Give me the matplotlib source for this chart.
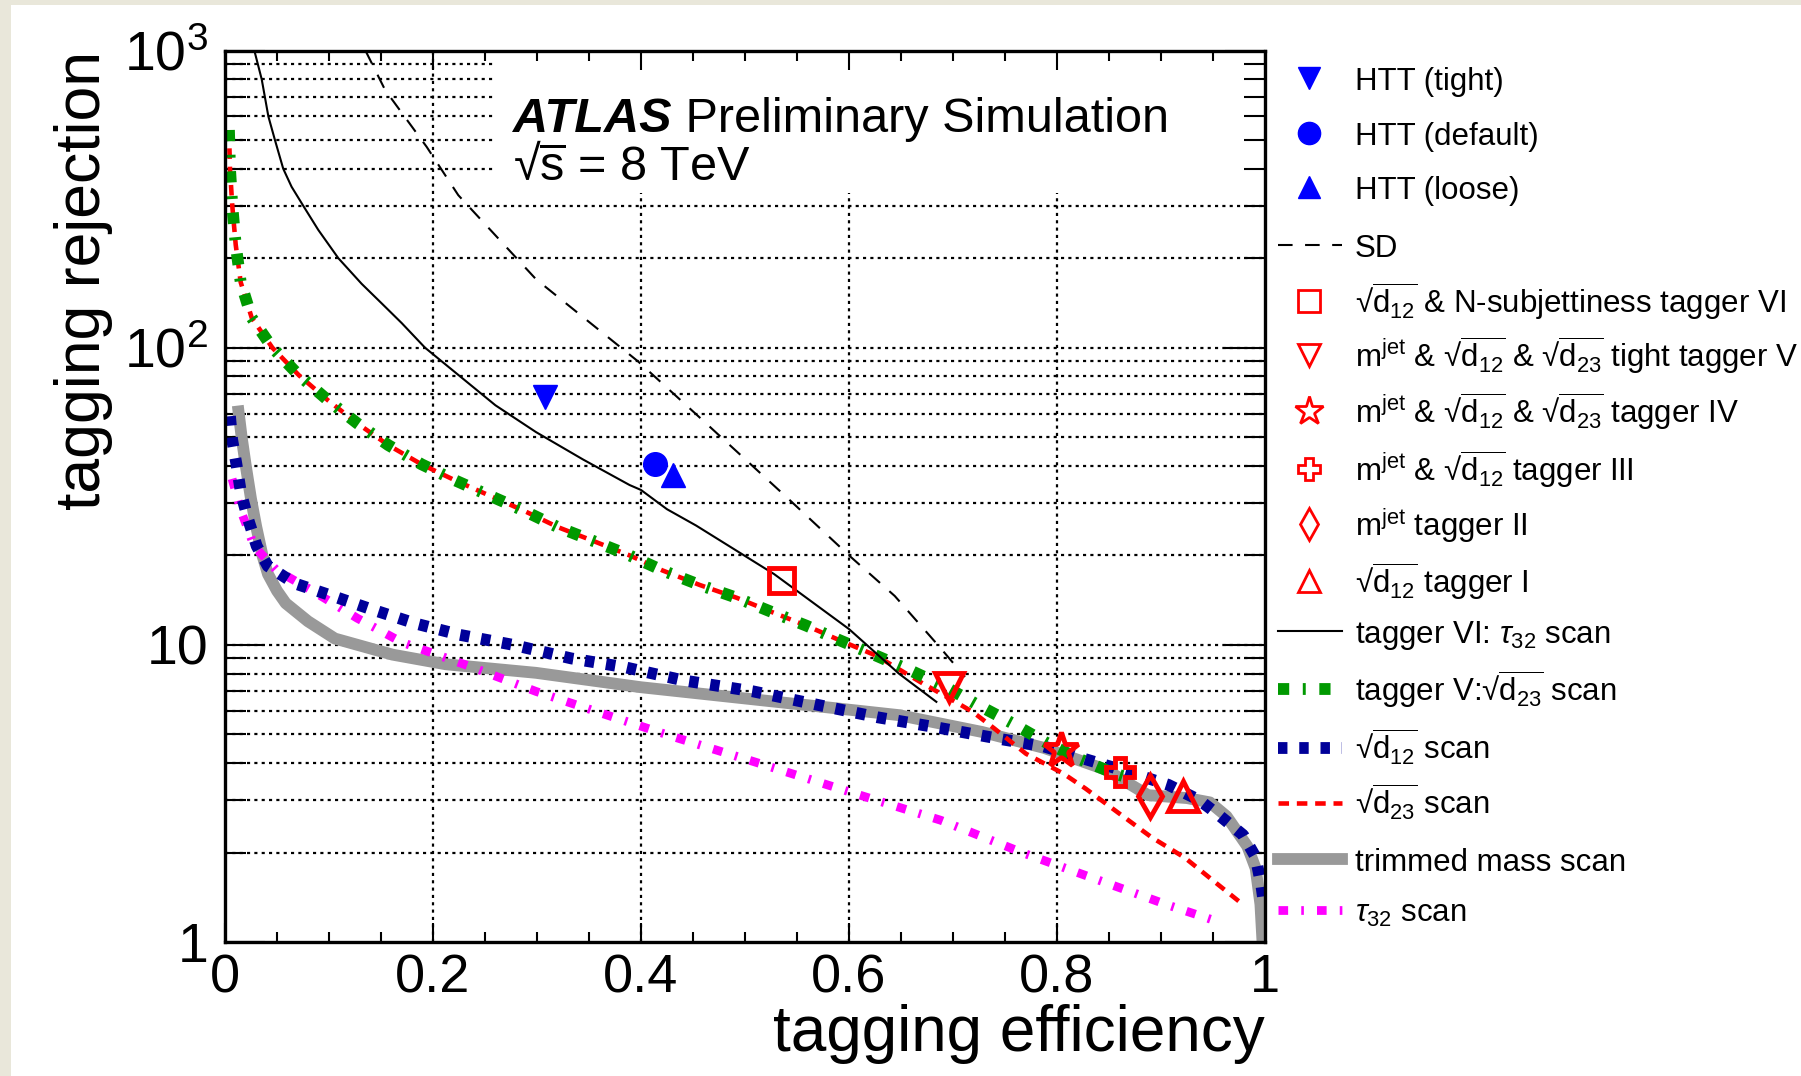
import matplotlib
matplotlib.use("Agg")
import matplotlib.pyplot as plt
from matplotlib.lines import Line2D
from matplotlib.patches import Rectangle
from matplotlib import ticker

# ---- data ----
# SD (dashed black)
sd_eff = [0.135, 0.154, 0.1939, 0.2243, 0.299, 0.397, 0.453, 0.543, 0.600, 0.644, 0.6875, 0.7115]
sd_rej = [1000, 736, 474, 326, 170, 90, 59.7, 30.7, 20.0, 14.6, 9.8, 7.8]

# tagger VI: tau32 scan (solid black)
vi_eff = [0.0282, 0.0353, 0.0417, 0.048, 0.056, 0.064, 0.0753, 0.0897, 0.109, 0.1314,
          0.1506, 0.1699, 0.1923, 0.23, 0.26, 0.299, 0.3445, 0.389, 0.40, 0.425,
          0.453, 0.528, 0.600, 0.648, 0.684]
vi_rej = [1000, 800, 600, 500, 400, 348, 300, 249, 200, 164,
          141, 121, 100, 78, 64, 52, 42, 34.5, 33.2, 28.6,
          25.2, 17.3, 11.3, 8.0, 6.43]

# tagger V: sqrt(d23) scan (green)
v_eff = [0.0038, 0.0048, 0.007, 0.0103, 0.0151, 0.0257, 0.0455, 0.071, 0.099, 0.127,
         0.157, 0.189, 0.221, 0.256, 0.288, 0.32, 0.355, 0.389, 0.4206, 0.4565,
         0.492, 0.5257, 0.559, 0.5913, 0.626, 0.660, 0.6935, 0.7248, 0.756, 0.7885,
         0.820, 0.8536, 0.863]
v_rej = [540, 400, 300, 222, 166, 126, 100, 80.8, 66.5, 55.7,
         47, 40.5, 35.8, 31.6, 28.2, 24.9, 22.3, 20, 17.8, 15.9,
         14.4, 12.9, 11.6, 10.35, 9.2, 8.17, 7.2, 6.25, 5.47, 4.71,
         4.15, 3.71, 3.62]

# sqrt(d23) scan (red dashed)
d23_eff = [0.0038, 0.0048, 0.007, 0.0103, 0.0151, 0.0257, 0.0455, 0.071, 0.099, 0.127,
           0.157, 0.189, 0.221, 0.256, 0.288, 0.32, 0.355, 0.389, 0.4206, 0.4565,
           0.492, 0.5257, 0.559, 0.5913, 0.626, 0.671, 0.700, 0.7192, 0.7394, 0.7702,
           0.806, 0.8276, 0.859, 0.891, 0.923, 0.951, 0.975]
d23_rej = [540, 400, 300, 222, 166, 126, 100, 80.8, 66.5, 55.7,
           47, 40.5, 35.8, 31.6, 28.2, 24.9, 22.3, 20, 17.8, 15.9,
           14.4, 12.9, 11.6, 10.35, 9.2, 7.41, 6.5, 5.94, 5.24, 4.30,
           3.69, 3.28, 2.72, 2.25, 1.92, 1.6, 1.37]

# sqrt(d12) scan (navy dotted)
d12_eff = [0.0048, 0.0068, 0.011, 0.0154, 0.0219, 0.0305, 0.0412, 0.0669, 0.1034, 0.140,
           0.183, 0.226, 0.277, 0.333, 0.385, 0.44, 0.508, 0.568, 0.628, 0.6875,
           0.747, 0.7875, 0.8276, 0.867, 0.907, 0.937, 0.957, 0.979, 0.991, 0.9966, 0.999]
d12_rej = [58.8, 49.2, 40.5, 32.4, 26.7, 21.5, 18.4, 16.1, 14.6, 13.2,
           11.8, 10.8, 10.0, 9.0, 8.4, 7.6, 6.97, 6.3, 5.7, 5.25,
           4.81, 4.55, 4.12, 3.75, 3.38, 3.0, 2.65, 2.29, 1.93, 1.54, 1.34]

# trimmed mass scan (grey)
trim_eff = [0.013, 0.016, 0.020, 0.025, 0.030, 0.036, 0.0413, 0.05, 0.0584, 0.0798,
            0.1056, 0.161, 0.2125, 0.299, 0.40, 0.50, 0.60, 0.648, 0.728, 0.7875,
            0.847, 0.8875, 0.925, 0.947, 0.963, 0.983, 0.991, 0.9956, 0.9976]
trim_rej = [61, 50, 40, 31, 25, 20, 17.3, 15.2, 13.8, 12.0,
            10.5, 9.27, 8.6, 8.05, 7.2, 6.6, 6.05, 5.8, 5.09, 4.5,
            3.8, 3.12, 3.05, 2.95, 2.65, 2.1, 1.77, 1.34, 1.0]

# tau32 scan (magenta)
tau_eff = [0.0068, 0.0154, 0.028, 0.0327, 0.0498, 0.0841, 0.127, 0.170, 0.234, 0.299,
           0.363, 0.4275, 0.508, 0.608, 0.688, 0.768, 0.8475, 0.907, 0.955]
tau_rej = [36.2, 28.2, 21.5, 20.6, 17.8, 15.2, 12.3, 10.2, 8.5, 6.97,
           5.87, 4.95, 4.05, 3.14, 2.57, 1.99, 1.58, 1.33, 1.17]

# HTT working points
htt_eff = [0.3077, 0.4135, 0.4306]
htt_rej = [68.3, 40.7, 37.2]
htt_labels = ["HTT (tight)", "HTT (default)", "HTT (loose)"]


def rt(sub):
    # ROOT-like #sqrt{d_{xy}}
    return "$\u221a\\overline{\\mathrm{d}_{%s}}$" % sub


MJ = r"m$^{\mathrm{jet}}$"

# taggers VI .. I
tag_eff = [0.5343, 0.696, 0.8036, 0.8609, 0.8897, 0.9215]
tag_rej = [16.5, 7.2, 4.41, 3.73, 3.09, 3.11]
tag_labels = [
    rt("12") + " & N-subjettiness tagger VI",
    MJ + " & " + rt("12") + " & " + rt("23") + " tight tagger V",
    MJ + " & " + rt("12") + " & " + rt("23") + " tagger IV",
    MJ + " & " + rt("12") + " tagger III",
    MJ + " tagger II",
    rt("12") + " tagger I",
]
scan_labels = [
    r"tagger VI: $\tau_{32}$ scan",
    "tagger V:" + rt("23") + " scan",
    rt("12") + " scan",
    rt("23") + " scan",
    "trimmed mass scan",
    r"$\tau_{32}$ scan",
]

x_ticks = [0, 0.2, 0.4, 0.6, 0.8, 1]
x_ticklabels = ["0", "0.2", "0.4", "0.6", "0.8", "1"]
y_ticks = [1, 10, 100, 1000]
y_ticklabels = ["1", "10", r"$10^{2}$", r"$10^{3}$"]

# ---- fonts ----
sans = "Liberation Sans"
plt.rcParams["font.family"] = [sans, "DejaVu Sans"]
plt.rcParams["mathtext.fontset"] = "custom"
plt.rcParams["mathtext.rm"] = sans
plt.rcParams["mathtext.it"] = sans + ":italic"
plt.rcParams["mathtext.bf"] = sans + ":bold"

W, H = 1801, 1076
fig = plt.figure(figsize=(W / 100, H / 100), dpi=100, facecolor="#e9e7da")
fig.add_artist(Rectangle((11 / W, 0), 1, 1 - 5 / H, transform=fig.transFigure,
                         facecolor="white", edgecolor="none", zorder=-1))

ax = fig.add_axes([225 / W, 1 - 942 / H, 1040 / W, 891.5 / H])
ax.set_yscale("log")
ax.set_xlim(0, 1)
ax.set_ylim(1, 1000)

# dotted grid, drawn by hand so the text box can hide part of it
grid_style = dict(color="black", lw=1.6, ls=(0, (1.4, 1.9)), zorder=1)
for x in x_ticks[1:-1]:
    ax.axvline(x, **grid_style)
for dec in [1, 10, 100]:
    for m in range(1, 10):
        if dec * m > 1:
            ax.axhline(dec * m, **grid_style)
ax.add_patch(Rectangle((0.26, 331), 0.74, 669, facecolor="white", edgecolor="none", zorder=1.2))

# curves
trim_line, = ax.plot(trim_eff, trim_rej, color="#999999", lw=8.5, zorder=2)
tau_line, = ax.plot(tau_eff, tau_rej, color="#ff00ff", lw=6.3, ls=(0, (1.1, 1.5, 0.3, 1.5)), zorder=2.1)
d12_line, = ax.plot(d12_eff, d12_rej, color="#000099", lw=8.5, ls=(0, (0.8, 1.0)), zorder=2.2)
d23_line, = ax.plot(d23_eff, d23_rej, color="#ff0000", lw=3.3, ls=(0, (2.3, 1.7)), zorder=2.3)
v_line, = ax.plot(v_eff, v_rej, color="#009900", lw=8.5, ls=(0, (0.95, 1.15, 0.25, 1.15)), zorder=2.4)
vi_line, = ax.plot(vi_eff, vi_rej, color="black", lw=1.5, zorder=2.5)
sd_line, = ax.plot(sd_eff, sd_rej, color="black", lw=1.5, ls=(0, (7, 6)), zorder=2.5)

# working points
htt_markers = ["v", "o", "^"]
htt_pts = []
for e, r, m in zip(htt_eff, htt_rej, htt_markers):
    p, = ax.plot([e], [r], marker=m, ls="none", color="#0000ff", ms=17, zorder=4)
    htt_pts.append(p)

tag_markers = ["s", "v", "*", "P", "d", "^"]
tag_ms = [18, 20, 26, 20, 21, 22]
tag_pts = []
for e, r, m, s in zip(tag_eff, tag_rej, tag_markers, tag_ms):
    p, = ax.plot([e], [r], marker=m, ls="none", color="#ff0000", mfc="none", mew=3.5, ms=s, zorder=4)
    tag_pts.append(p)

# axes cosmetics (ROOT style)
for s in ax.spines.values():
    s.set_linewidth(2.4)
ax.set_xticks(x_ticks)
ax.set_xticklabels(x_ticklabels)
ax.xaxis.set_minor_locator(ticker.MultipleLocator(0.05))
ax.set_yticks(y_ticks)
ax.set_yticklabels(y_ticklabels)
ax.yaxis.set_minor_locator(ticker.LogLocator(base=10, subs=range(2, 10)))
ax.yaxis.set_minor_formatter(ticker.NullFormatter())
ax.tick_params(axis="both", which="both", direction="in", top=True, right=True, width=1.5)
ax.tick_params(axis="x", which="major", length=14, pad=8, labelsize=39)
ax.tick_params(axis="x", which="minor", length=7)
ax.tick_params(axis="y", which="major", length=29, pad=12, labelsize=40)
ax.tick_params(axis="y", which="minor", length=15)

ax.set_xlabel("tagging efficiency", fontsize=46, loc="right")
ax.xaxis.set_label_coords(1.0, -0.07)
ax.set_ylabel("tagging rejection", fontsize=45, loc="top")
ax.yaxis.set_label_coords(-0.108, 1.0)

t1 = ax.text(0.277, 0.9086, "ATLAS", transform=ax.transAxes, fontsize=35,
             fontweight="bold", fontstyle="italic", va="baseline", zorder=5)
ax.annotate(" Preliminary Simulation", xy=(1, 0), xycoords=t1, fontsize=35,
            va="bottom", ha="left", zorder=5)
ax.text(0.277, 0.8536, "$\u221a\\overline{\\mathrm{s}}$ = 8 TeV", transform=ax.transAxes,
        fontsize=35, va="baseline", zorder=5)

# ---- legend, laid out like the ROOT legend ----
entries = [
    (htt_pts[0], htt_labels[0], "marker"),
    (htt_pts[1], htt_labels[1], "marker"),
    (htt_pts[2], htt_labels[2], "marker"),
    (sd_line, "SD", "line"),
] + [(p, lab, "marker") for p, lab in zip(tag_pts, tag_labels)] + [
    (a, lab, "line") for a, lab in zip([vi_line, v_line, d12_line, d23_line, trim_line, tau_line], scan_labels)
]
row_px = [78, 133, 187, 245, 301, 355, 411, 469, 524, 581, 631, 689, 748, 803, 859, 910]
key_x0, key_x1, key_xm, text_x = 1278 / W, 1342 / W, 1309 / W, 1355 / W
for (art, label, kind), ypx in zip(entries, row_px):
    yf = 1 - ypx / H
    key = Line2D([], [])
    key.update_from(art)
    key.set_transform(fig.transFigure)
    key.set_clip_on(False)
    key.set_clip_box(None)
    key.set_clip_path(None)
    if kind == "marker":
        key.set_data([key_xm], [yf])
        key.set_markersize(16 if art.get_marker() != "*" else 21)
        if art.get_markerfacecolor() == "none":
            key.set_markeredgewidth(2)
    else:
        key.set_data([key_x0, key_x1], [yf, yf])
    fig.add_artist(key)
    fig.text(text_x, 1 - (ypx + 12) / H, label, fontsize=22.5, va="baseline", ha="left")

fig.savefig("out.png", dpi=100, facecolor=fig.get_facecolor())
